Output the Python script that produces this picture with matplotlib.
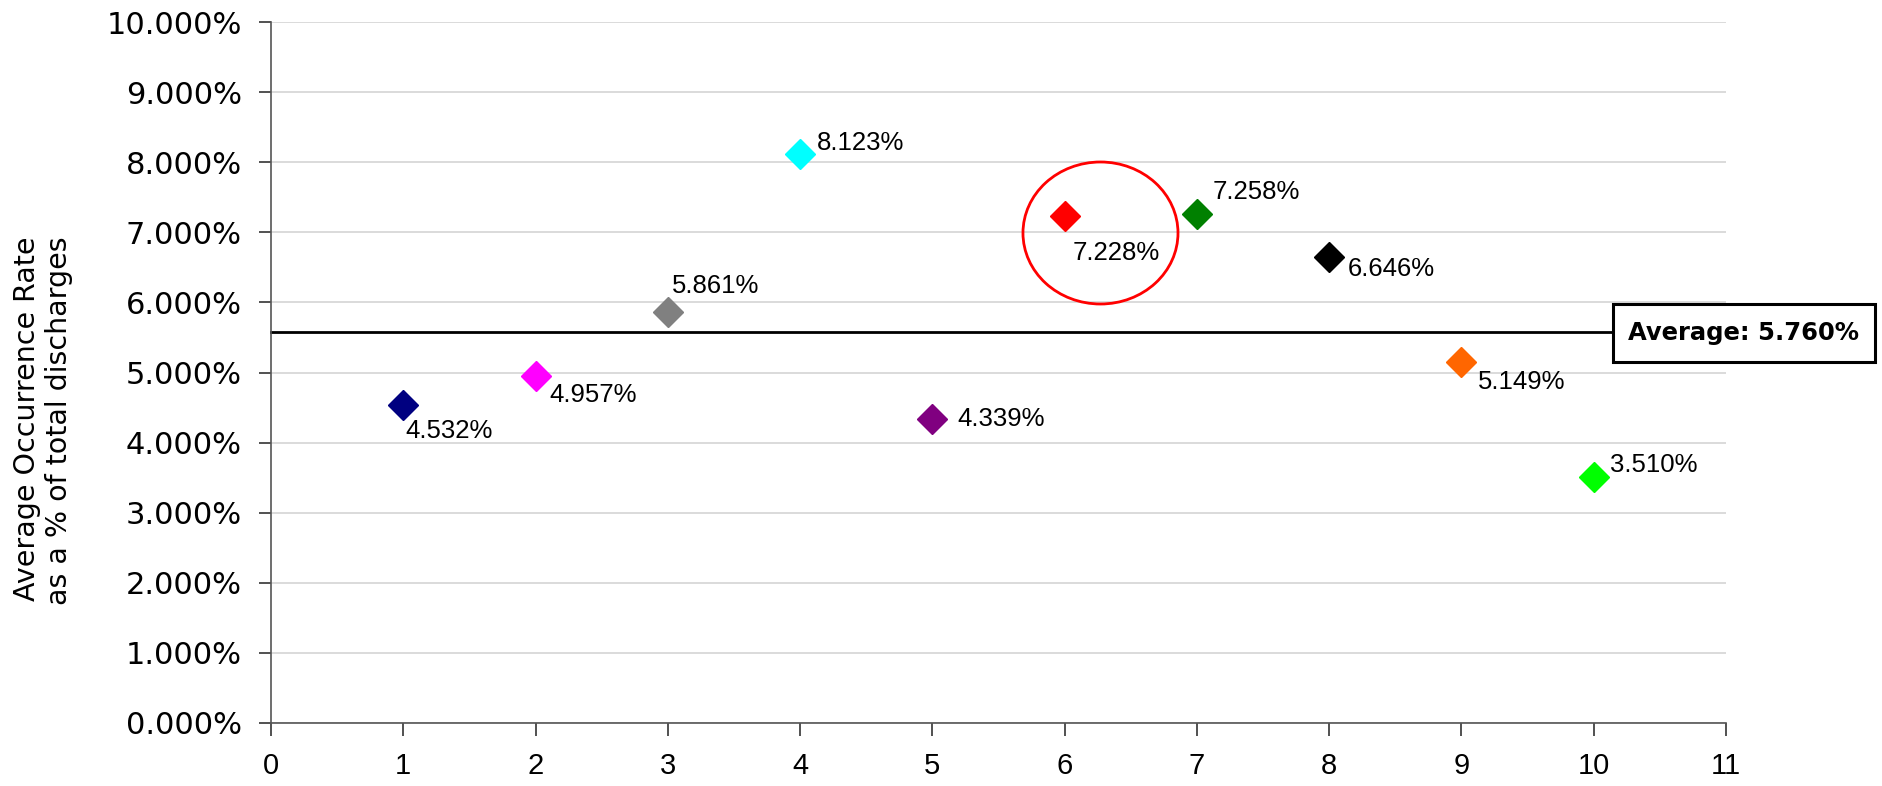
import matplotlib
matplotlib.use("Agg")
import matplotlib.pyplot as plt
from matplotlib.patches import Ellipse, Rectangle
from matplotlib.ticker import FuncFormatter, MultipleLocator
import matplotlib.transforms as mtransforms

# ---- data ----
x_values = [1, 2, 3, 4, 5, 6, 7, 8, 9, 10]
rates = [4.532, 4.957, 5.861, 8.123, 4.339, 7.228, 7.258, 6.646, 5.149, 3.510]
point_colors = ["#000080", "#FF00FF", "#808080", "#00FFFF", "#800080",
                "#FF0000", "#008000", "#000000", "#FF6600", "#00FF00"]
average_label = "Average: 5.760%"
average_line_y = 5.58
y_label = "Average Occurrence Rate\nas a % of total discharges"

# label offsets in pixels (dx, dy) relative to marker
label_offsets = [(2, -26), (14, -19), (4, 26), (17, 11), (25, 0),
                 (8, -37), (16, 22), (19, -12), (16, -20), (16, 12)]

W, H = 1883, 786
fig = plt.figure(figsize=(W / 100, H / 100), dpi=100)
ax = fig.add_axes([271 / W, 1 - 723 / H, (1726 - 271) / W, (723 - 22) / H])

ax.set_xlim(0, 11)
ax.set_ylim(0, 10)
ax.xaxis.set_major_locator(MultipleLocator(1))
ax.yaxis.set_major_locator(MultipleLocator(1))
ax.yaxis.set_major_formatter(FuncFormatter(lambda v, p: f"{v:.3f}%"))

ax.grid(axis="y", color="#d4d4d4", linewidth=1.2)
ax.set_axisbelow(True)
for s in ("top", "right"):
    ax.spines[s].set_visible(False)
for s in ("left", "bottom"):
    ax.spines[s].set_color("#555555")
    ax.spines[s].set_linewidth(1.2)

ax.tick_params(axis="y", direction="out", length=9, width=1.2, color="#333333",
               labelsize=22, pad=12)
ax.tick_params(axis="x", direction="out", length=9, width=1.2, color="#333333",
               labelsize=21, pad=12)
for lbl in ax.get_yticklabels():
    lbl.set_fontfamily("DejaVu Sans")
for lbl in ax.get_xticklabels():
    lbl.set_fontfamily("Liberation Sans")

for xv, yv, c, (dx, dy) in zip(x_values, rates, point_colors, label_offsets):
    ax.plot([xv], [yv], marker="D", markersize=15, color=c, linestyle="none",
            zorder=3, clip_on=False)
    ax.annotate(f"{yv:.3f}%", xy=(xv, yv), xytext=(dx * 0.72, dy * 0.72),
                textcoords="offset points", ha="left", va="center",
                fontsize=18.5, family="Liberation Sans", color="black")

# average line, extended to the box
trans = mtransforms.blended_transform_factory(ax.transAxes, ax.transData)
box_left = (1613 - 271) / (1726 - 271)
ax.plot([0, box_left], [average_line_y, average_line_y], color="black",
        linewidth=2, transform=trans, clip_on=False, zorder=2)

# label box in figure pixels
box_x0, box_x1, box_y0, box_y1 = 1613, 1875, 304, 362
fig.patches.append(Rectangle((box_x0 / W, 1 - box_y1 / H),
                             (box_x1 - box_x0) / W, (box_y1 - box_y0) / H,
                             transform=fig.transFigure, fc="white", ec="black",
                             lw=2.2, zorder=4))
fig.text((box_x0 + (box_x1 - box_x0) / 2) / W, 1 - (box_y0 + box_y1) / 2 / H,
         average_label, ha="center", va="center", fontsize=17.5,
         fontweight="bold", family="DejaVu Sans", zorder=5)

# red highlight ellipse
ax.add_patch(Ellipse((6.271, 6.99), 1.172, 2.026, fill=False,
                     edgecolor="#FF0000", linewidth=2, zorder=4))

fig.text(43 / W, 1 - 421 / H, y_label, rotation=90, ha="center", va="center",
         multialignment="right", fontsize=20.5, family="DejaVu Sans")

fig.savefig("out.png", dpi=100)
